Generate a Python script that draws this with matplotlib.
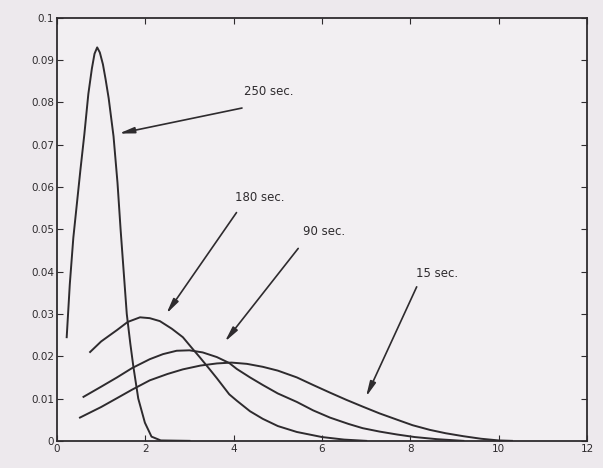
import matplotlib
matplotlib.use("Agg")
import matplotlib.pyplot as plt

# curves (x, density)
x_250 = [0.22, 0.29, 0.37, 0.45, 0.53, 0.62, 0.71, 0.79, 0.85, 0.91, 0.97, 1.04, 1.10,
         1.17, 1.28, 1.37, 1.44, 1.51, 1.58, 1.66, 1.73, 1.84, 1.99, 2.14, 2.35, 3.0]
y_250 = [0.0245, 0.037, 0.048, 0.056, 0.064, 0.0725, 0.082, 0.088, 0.0915, 0.093, 0.0918,
         0.089, 0.0855, 0.081, 0.072, 0.061, 0.050, 0.040, 0.030, 0.023, 0.0175, 0.0100,
         0.0043, 0.001, 0.0001, 0.0]

x_180 = [0.75, 1.0, 1.36, 1.6, 1.88, 2.1, 2.33, 2.6, 2.85, 3.05, 3.23, 3.45, 3.62, 3.9,
         4.07, 4.37, 4.66, 5.0, 5.43, 6.0, 6.5, 7.0]
y_180 = [0.021, 0.0235, 0.0262, 0.0281, 0.0292, 0.029, 0.0283, 0.0265, 0.0245, 0.022,
         0.0198, 0.017, 0.0148, 0.011, 0.0095, 0.0070, 0.0052, 0.0035, 0.0021, 0.0009,
         0.0003, 0.0]

x_90 = [0.60, 1.0, 1.36, 1.7, 2.1, 2.4, 2.71, 3.0, 3.3, 3.62, 3.9, 4.07, 4.37, 4.66, 5.0,
        5.43, 5.8, 6.18, 6.6, 6.92, 7.3, 7.7, 8.1, 8.6, 9.2]
y_90 = [0.0104, 0.0128, 0.015, 0.0172, 0.0193, 0.0205, 0.0213, 0.0214, 0.0209, 0.0198,
        0.0184, 0.017, 0.0150, 0.0132, 0.0112, 0.0092, 0.0072, 0.0055, 0.0040, 0.003,
        0.0022, 0.0015, 0.0009, 0.0004, 0.0]

x_15 = [0.52, 1.0, 1.36, 1.7, 2.1, 2.5, 2.85, 3.25, 3.62, 3.95, 4.3, 4.66, 5.0, 5.43, 5.8,
        6.18, 6.55, 6.92, 7.3, 7.7, 8.05, 8.44, 8.8, 9.2, 9.6, 10.0, 10.3]
y_15 = [0.0055, 0.0080, 0.0101, 0.0121, 0.0143, 0.0158, 0.0169, 0.0178, 0.0183, 0.0185,
        0.0182, 0.0175, 0.0166, 0.015, 0.0132, 0.0114, 0.0097, 0.0081, 0.0065, 0.0050,
        0.0037, 0.0026, 0.0018, 0.0011, 0.0005, 0.0001, 0.0]

labels = ["250 sec.", "180 sec.", "90 sec.", "15 sec."]
label_xy = [(4.8, 0.0825), (4.6, 0.0575), (6.05, 0.0495), (8.6, 0.0395)]
arrow_tail = [(4.25, 0.0788), (4.1, 0.0545), (5.5, 0.046), (8.17, 0.037)]
arrow_head = [(1.34, 0.0725), (2.44, 0.0295), (3.76, 0.0229), (6.97, 0.0098)]

xticks = [0, 2, 4, 6, 8, 10, 12]
yticks = [0, 0.01, 0.02, 0.03, 0.04, 0.05, 0.06, 0.07, 0.08, 0.09, 0.1]
ytick_labels = ["0", "0.01", "0.02", "0.03", "0.04", "0.05", "0.06", "0.07", "0.08", "0.09", "0.1"]

ink = "#2e2b2e"
fig = plt.figure(figsize=(6.03, 4.68), dpi=100, facecolor="#ede9ed")
ax = fig.add_axes([0.0945, 0.058, 0.879, 0.904], facecolor="#f2eff2")

for xs, ys in [(x_250, y_250), (x_180, y_180), (x_90, y_90), (x_15, y_15)]:
    ax.plot(xs, ys, color=ink, lw=1.4)

for lab, lxy, tail, head in zip(labels, label_xy, arrow_tail, arrow_head):
    ax.text(lxy[0], lxy[1], lab, ha="center", va="center", fontsize=8.5, color=ink)
    ax.annotate("", xy=head, xytext=tail,
                arrowprops=dict(arrowstyle="-|>,head_length=0.9,head_width=0.18",
                                color=ink, lw=1.2))

ax.set_xlim(0, 12)
ax.set_ylim(0, 0.1)
ax.set_xticks(xticks)
ax.set_yticks(yticks)
ax.set_yticklabels(ytick_labels)
ax.tick_params(direction="in", top=True, right=True, length=4, labelsize=7.5,
               colors=ink, pad=2)
for sp in ax.spines.values():
    sp.set_color(ink)
    sp.set_linewidth(1.3)

fig.savefig("out.png", dpi=100, facecolor=fig.get_facecolor())
